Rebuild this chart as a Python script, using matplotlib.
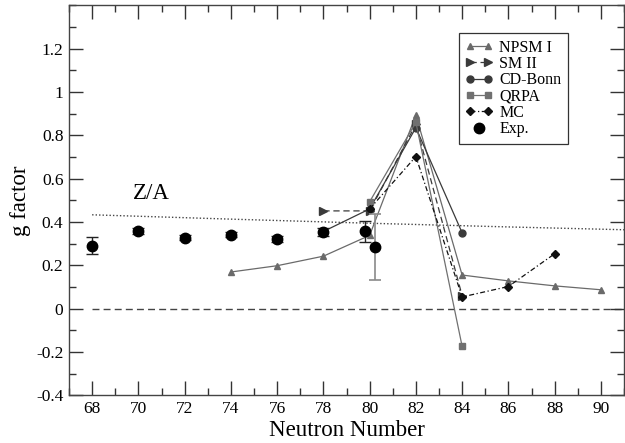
import matplotlib
matplotlib.use("Agg")
import matplotlib.pyplot as plt
from matplotlib.legend_handler import HandlerLine2D
from matplotlib.ticker import MultipleLocator

plt.rcParams['font.family'] = ['Liberation Serif', 'DejaVu Serif']
plt.rcParams['mathtext.fontset'] = 'stix'

# Calculated g factors versus neutron number
N_npsm = [74, 76, 78, 80, 82, 84, 86, 88, 90]
g_npsm = [0.169, 0.198, 0.242, 0.338, 0.893, 0.155, 0.128, 0.105, 0.087]

N_sm2 = [78, 80, 82, 84]
g_sm2 = [0.451, 0.451, 0.850, 0.060]

N_cdb = [78, 80, 82, 84]
g_cdb = [0.356, 0.460, 0.835, 0.350]

N_qrpa = [80, 82, 84]
g_qrpa = [0.493, 0.860, -0.174]

N_mc = [80, 82, 84, 86, 88]
g_mc = [0.460, 0.702, 0.054, 0.102, 0.253]

# Measured values with uncertainties
N_exp = [68, 70, 72, 74, 76, 78, 79.8, 80.25]
g_exp = [0.291, 0.358, 0.328, 0.342, 0.321, 0.353, 0.356, 0.284]
err_exp = [0.038, 0.014, 0.013, 0.011, 0.013, 0.019, 0.047, 0.152]

# Z/A reference line
N_za = [68, 74, 80, 86, 91]
g_za = [0.433, 0.413, 0.394, 0.377, 0.364]

fig = plt.figure(figsize=(6.25, 4.43), dpi=100)
ax = fig.add_axes([0.1104, 0.1077, 0.888, 0.8804])

ax.plot([68, 91], [0, 0], ls=(0, (5, 3)), color='#444444', lw=1.0, zorder=1)
ax.plot(N_za, g_za, ls=(0, (1, 1.5)), color='#444444', lw=1.0, zorder=1)
ax.text(69.75, 0.53, 'Z/A', fontsize=16.5, va='center', ha='left')

l1, = ax.plot(N_npsm, g_npsm, '-^', color='#6a6a6a', ms=5, lw=0.9, label='NPSM I', zorder=3)
l2, = ax.plot(N_sm2, g_sm2, ls=(0, (5, 3)), marker='>', color='#3a3a3a', ms=5.5, lw=0.9,
              label='SM II', zorder=3)
l3, = ax.plot(N_cdb, g_cdb, '-o', color='#3a3a3a', ms=5, lw=0.9, label='CD-Bonn', zorder=3)
l4, = ax.plot(N_qrpa, g_qrpa, '-s', color='#707070', ms=5, lw=0.9, label='QRPA', zorder=3)
l5, = ax.plot(N_mc, g_mc, ls=(0, (4, 2, 1, 2)), marker='D', color='#111111', ms=4, lw=0.9,
              label='MC', zorder=3)

ax.errorbar(N_exp[:-1], g_exp[:-1], yerr=err_exp[:-1], fmt='none', ecolor='#222222',
            elinewidth=1.0, capsize=4, capthick=1.0, zorder=4)
ax.errorbar(N_exp[-1:], g_exp[-1:], yerr=err_exp[-1:], fmt='none', ecolor='#8a8a8a',
            elinewidth=1.2, capsize=4, capthick=1.2, zorder=4)
l6, = ax.plot(N_exp, g_exp, 'o', color='black', ms=7.5, ls='none', label='Exp.', zorder=5)

ax.set_xlim(67, 91)
ax.set_ylim(-0.4, 1.4)
ax.xaxis.set_major_locator(MultipleLocator(2))
ax.xaxis.set_minor_locator(MultipleLocator(1))
ax.yaxis.set_major_locator(MultipleLocator(0.2))
ax.yaxis.set_minor_locator(MultipleLocator(0.1))
ax.set_yticks([-0.4, -0.2, 0, 0.2, 0.4, 0.6, 0.8, 1.0, 1.2])
ax.set_yticklabels(['-0.4', '-0.2', '0', '0.2', '0.4', '0.6', '0.8', '1', '1.2'])

ax.tick_params(which='both', direction='in', top=True, right=True, colors='#333333',
               labelcolor='black', labelsize=12.5, width=1.0)
ax.tick_params(which='major', length=10, pad=4)
ax.tick_params(which='minor', length=5)
for s in ax.spines.values():
    s.set_color('#444444')
    s.set_linewidth(1.0)

ax.set_xlabel('Neutron Number', fontsize=16.5, labelpad=2)
ax.set_ylabel('g factor', fontsize=16.5, labelpad=4)

leg = ax.legend(handles=[l1, l2, l3, l4, l5, l6], loc='upper left',
                bbox_to_anchor=(0.703, 0.928), borderaxespad=0, fontsize=11.5,
                numpoints=2, handlelength=1.7, handletextpad=0.4, labelspacing=0.02,
                borderpad=0.4, fancybox=False, framealpha=1, edgecolor='#333333',
                handler_map={l6: HandlerLine2D(numpoints=1)})
leg.get_frame().set_linewidth(0.9)

fig.savefig('out.png', dpi=100)
